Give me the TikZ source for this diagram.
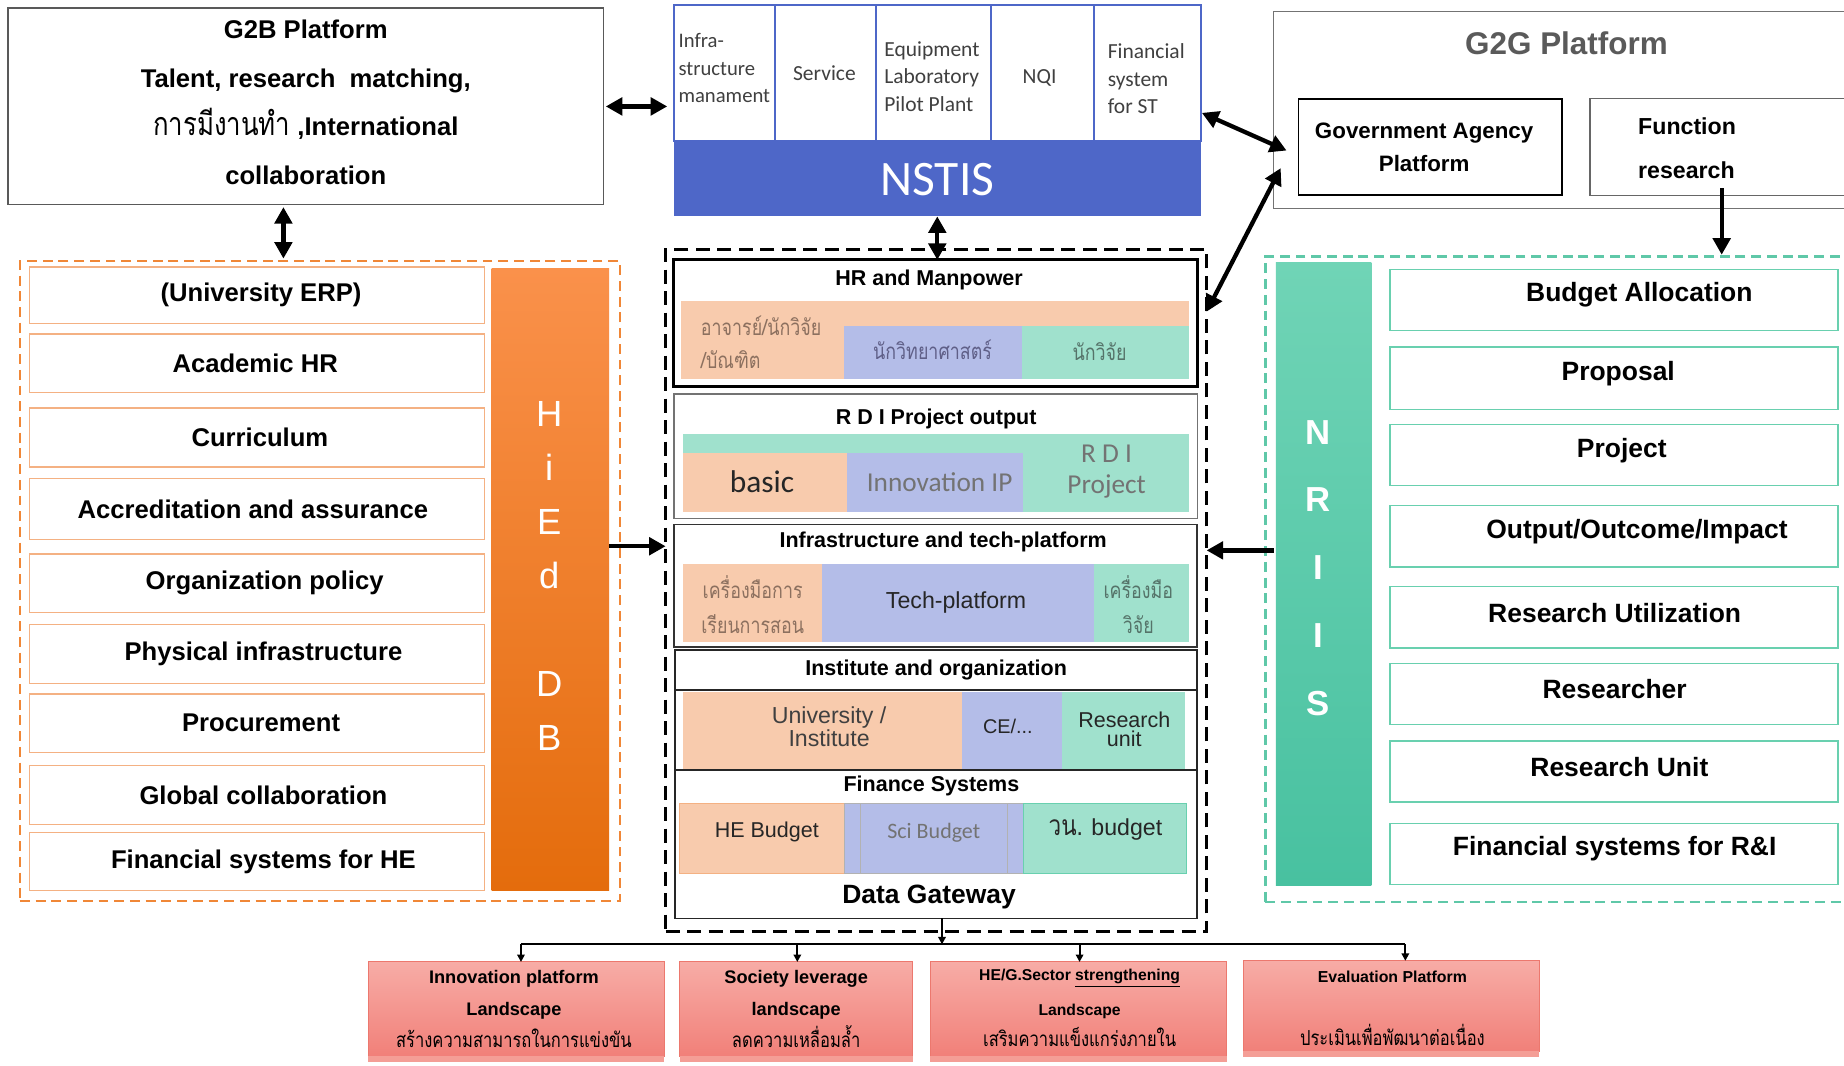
\documentclass[tikz,border=0pt]{standalone}
\usepackage{fontspec}
\setmainfont{Liberation Sans}
\newfontfamily\cali{Carlito}
\newfontfamily\thai[Script=Thai]{Loma}
\newfontfamily\thain[Script=Thai,FakeStretch=0.8]{Loma}
\usetikzlibrary{arrows.meta,fit,calc}
\newcommand\fs[2]{\fontsize{#1pt}{#2pt}\selectfont}
\definecolor{nblue}{RGB}{78,103,200}
\definecolor{cO}{RGB}{248,203,173}
\definecolor{cB}{RGB}{180,189,232}
\definecolor{cG}{RGB}{160,225,205}
\definecolor{lor}{RGB}{244,177,131}
\definecolor{dor}{RGB}{240,135,55}
\definecolor{lgr}{RGB}{105,208,175}
\definecolor{dgr}{RGB}{95,200,168}
\definecolor{txO}{RGB}{140,112,95}
\definecolor{txB}{RGB}{95,95,135}
\definecolor{txG}{RGB}{85,115,105}
\definecolor{ctx}{RGB}{64,64,64}
\definecolor{g2gtx}{RGB}{90,90,90}
\definecolor{hiT}{RGB}{250,145,75}
\definecolor{hiB}{RGB}{228,108,12}
\definecolor{nrT}{RGB}{112,212,182}
\definecolor{nrB}{RGB}{72,193,160}
\definecolor{pkT}{RGB}{247,172,166}
\definecolor{pkB}{RGB}{241,128,121}
\definecolor{pkD}{RGB}{236,120,110}
\definecolor{pkS}{RGB}{244,158,150}
\tikzset{
 shape0/.style={inner sep=0pt, outer sep=0pt, rectangle},
 lbox/.style={shape0, draw=lor, line width=0.8pt},
 rbox/.style={shape0, draw=lgr, line width=0.8pt},
 cellbox/.style={shape0, draw=nblue, line width=1.3pt, fill=white},
 fillO/.style={shape0, fill=cO},
 fillB/.style={shape0, fill=cB},
 fillG/.style={shape0, fill=cG},
 pbox/.style={shape0, top color=pkT, bottom color=pkB, draw=pkD, line width=0.6pt},
 pstrip/.style={shape0, fill=pkS},
 txt/.style={inner sep=0pt, outer sep=0pt},
 ltxt/.style={txt, font=\bfseries\fs{15.5}{18}},
 rtxt/.style={txt, font=\bfseries\fs{16}{19}},
 ttl/.style={txt, font=\bfseries\fs{13}{15}},
 celltx/.style={txt, text=ctx, font=\cali\fs{13}{16.5}, align=left},
 thaitx/.style={txt, font=\thain\fs{13.5}{20}, align=left},
 dbl/.style={line width=2.6pt, {Triangle[length=10pt,width=10.5pt]}-{Triangle[length=10pt,width=10.5pt]}},
 sgl/.style={line width=2.6pt, -{Triangle[length=10pt,width=10.5pt]}},
 conn/.style={line width=1.3pt, -{Triangle[length=4.5pt,width=4.5pt]}},
 barline/.style={line width=1.3pt},
}
\begin{document}
\begin{tikzpicture}[x=0.025cm,y=-0.025cm]
\clip (0,0) rectangle (1568,906);
\fill[white] (0,0) rectangle (1568,906);

% ---------- G2B
\node[shape0, fit={(7,7) (513,174)}, draw=black!65, line width=0.9pt] (g2b) {};
\node[txt, font=\bfseries\fs{15.5}{29.5}, align=center] (g2bt) at (260,87) {G2B Platform\\Talent, research\ \ matching,\\{\thain\mdseries\fs{19.5}{29.5}การมีงานทำ} ,International\\collaboration};

% ---------- NSTIS
\node[cellbox, fit={(573,4) (659,120)}] (c1) {};
\node[cellbox, fit={(659,4) (745,120)}] (c2) {};
\node[cellbox, fit={(745,4) (843,120)}] (c3) {};
\node[cellbox, fit={(843,4) (930,120)}] (c4) {};
\node[cellbox, fit={(930,4) (1021,120)}] (c5) {};
\node[shape0, fill=nblue, fit={(573,120) (1021,184)}] (nstis) {};
\node[txt, text=white, font=\cali\fs{30}{34}] (nstist) at (797,153) {NSTIS};
\node[celltx, anchor=west, font=\cali\fs{12.5}{16.5}] (c1t) at (577,58) {Infra-\\structure\\manament};
\node[celltx] (c2t) at (701,62) {Service};
\node[celltx, anchor=west] (c3t) at (752,65) {Equipment\\Laboratory\\Pilot Plant};
\node[celltx] (c4t) at (884,66) {NQI};
\node[celltx, anchor=west] (c5t) at (942,67) {Financial\\system\\for ST};

% ---------- G2G
\node[shape0, fit={(1083,10) (1580,177)}, draw=black!55, line width=0.7pt] (g2g) {};
\node[txt, text=g2gtx, font=\bfseries\fs{19}{22}] (g2gt) at (1332,37) {G2G Platform};
\node[shape0, fit={(1104,84) (1328,166)}, draw=black, line width=1pt] (gov) {};
\node[txt, font=\bfseries\fs{13.5}{20}, align=center] (govt) at (1211,125) {Government Agency\\Platform};
\node[shape0, fit={(1352,84) (1580,166)}, draw=black!60, line width=0.7pt] (func) {};
\node[txt, font=\bfseries\fs{14}{27}, align=left, anchor=west] (funct) at (1393,126) {Function\\research};

% ---------- left (HiEdDB)
\node[shape0, fit={(17,222) (527,766)}, draw=dor, line width=1.4pt, dash pattern=on 6pt off 3.5pt] (leftc) {};
\foreach \i/\ya/\yb/\tx/\lab in {1/227/275/222/{(University ERP)}, 2/284/334/217/{Academic HR}, 3/347/397/221/{Curriculum}, 4/407/459/215/{Accreditation and assurance}, 5/471/521/225/{Organization policy}, 6/531/581/224/{Physical infrastructure}, 7/590/640/222/{Procurement}, 8/651/701/224/{Global collaboration}, 9/708/757/224/{Financial systems for HE}}{
  \node[lbox, fit={(25,\ya) (412,\yb)}] (l\i) {};
  \node[ltxt] (lt\i) at (\tx,{(\ya+\yb)/2}) {\lab};
}
\node[shape0, fit={(418,228) (518,757)}, top color=hiT, bottom color=hiB] (hied) {};
\node[txt, text=white, font=\fs{22}{32.7}, align=center] (hiedt) at (467,490) {H\\i\\E\\d\\[32.7pt]D\\B};

% ---------- centre
\node[shape0, fit={(566,212) (1026,792)}, draw=black, line width=2pt, dash pattern=on 8.5pt off 4.5pt] (cent) {};

% HR
\node[shape0, fit={(573,221) (1018,329)}, draw=black, line width=1.8pt] (hr) {};
\node[ttl] (hrt) at (790,238) {HR and Manpower};
\node[fillO, fit={(579,256) (1011,322)}] (hrO) {};
\node[fillB, fit={(718,277) (869,322)}] (hrB) {};
\node[fillG, fit={(869,277) (1011,322)}] (hrG) {};
\node[thaitx, text=txO, anchor=west] (hrOt) at (596,291) {อาจารย์/นักวิจัย\\/บัณฑิต};
\node[thaitx, text=txB] (hrBt) at (793,297) {นักวิทยาศาสตร์};
\node[thaitx, text=txG] (hrGt) at (935,299) {นักวิจัย};

% RDI
\node[shape0, fit={(573,335) (1018,441)}, draw=black!55, line width=0.8pt] (rdi) {};
\node[ttl] (rdit) at (796,356) {R D I Project output};
\node[fillG, fit={(581,369) (1011,435)}] (rdiG) {};
\node[fillO, fit={(581,385) (720,435)}] (rdiO) {};
\node[fillB, fit={(720,385) (870,435)}] (rdiB) {};
\node[txt, font=\cali\fs{19}{22}, text=black!85] (rdiOt) at (648,410) {basic};
\node[txt, font=\cali\fs{16.5}{19}, text=black!55] (rdiBt) at (799,410) {Innovation IP};
\node[txt, font=\cali\fs{16.5}{18.5}, text=black!55, align=center] (rdiGt) at (941,401) {R D I\\Project};

% Infrastructure
\node[shape0, fit={(573,446) (1018,550)}, draw=black!80, line width=1pt] (inf) {};
\node[ttl] (inft) at (802,461) {Infrastructure and tech-platform};
\node[fillO, fit={(581,480) (699,546)}] (infO) {};
\node[fillB, fit={(699,480) (930,546)}] (infB) {};
\node[fillG, fit={(930,480) (1011,546)}] (infG) {};
\node[thaitx, text=txO, align=center, font=\thain\fs{13.5}{21}] (infOt) at (640,514) {เครื่องมือการ\\เรียนการสอน};
\node[txt, font=\fs{14}{16}, text=black!85] (infBt) at (813,512) {Tech-platform};
\node[thaitx, text=txG, align=center, font=\thain\fs{13.5}{21}] (infGt) at (968,514) {เครื่องมือ\\วิจัย};

% Institute + Finance
\node[shape0, fit={(574,553) (1018,781)}, draw=black!85, line width=1.1pt] (inst) {};
\node[ttl] (instt) at (796,570) {Institute and organization};
\draw[black!85, line width=1pt] (574,587) -- (1018,587);
\node[fillO, fit={(581,588) (818,654)}] (insO) {};
\node[fillB, fit={(818,588) (903,654)}] (insB) {};
\node[fillG, fit={(903,588) (1008,654)}] (insG) {};
\draw[black!85, line width=1pt] (574,655) -- (1018,655);
\node[txt, font=\fs{14}{10.5}, text=black!75, align=center] (insOt) at (705,618) {University /\\Institute};
\node[txt, font=\fs{12}{14}, text=black!85] (insBt) at (857,618) {CE/...};
\node[txt, font=\fs{13}{11.5}, text=black!85, align=center] (insGt) at (956,620) {Research\\unit};
\node[ttl] (fint) at (792,668) {Finance Systems};
\node[fillO, fit={(578,683) (718,743)}, draw=lor, line width=0.6pt] (finO) {};
\node[fillB, fit={(718,683) (870,743)}, draw=black!30, line width=0.6pt] (finB) {};
\node[fillG, fit={(870,683) (1009,743)}, draw=lgr, line width=0.6pt] (finG) {};
\draw[black!30, line width=0.6pt] (732,683) -- (732,743) (857,683) -- (857,743);
\node[txt, font=\fs{13}{15}, text=black!85] (finOt) at (652,707) {HE Budget};
\node[txt, font=\cali\fs{13.3}{15}, text=black!55] (finBt) at (794,708) {Sci Budget};
\node[txt, font=\fs{14}{16}, text=black!85] (finGt) at (940,705) {{\thain\fs{17}{16}วน.} budget};
\node[txt, font=\bfseries\fs{16}{18}] (dgt) at (790,763) {Data Gateway};

% ---------- right (NRIIS)
\node[shape0, fit={(1076,218) (1580,767)}, draw=dgr, line width=1.4pt, dash pattern=on 6pt off 3.5pt] (rightc) {};
\node[shape0, fit={(1085,223) (1166,753)}, top color=nrT, bottom color=nrB] (nriis) {};
\node[txt, text=white, font=\bfseries\fs{21}{41}, align=center] (nriist) at (1121,483) {N\\R\\I\\I\\S};
\foreach \i/\ya/\yb/\tx/\lab in {1/229/281/1394/{Budget Allocation}, 2/295/348/1376/{Proposal}, 3/361/413/1379/{Project}, 4/430/482/1392/{Output/Outcome/Impact}, 5/499/551/1373/{Research Utilization}, 6/564/616/1373/{Researcher}, 7/630/682/1377/{Research Unit}, 8/700/752/1373/{Financial systems for R\&I}}{
  \node[rbox, fit={(1182,\ya) (1563,\yb)}] (r\i) {};
  \node[rtxt] (rt\i) at (\tx,{(\ya+\yb)/2-4}) {\lab};
}

% ---------- bottom boxes
\node[pbox, fit={(313,818) (565,898)}] (b1) {};
\node[pstrip, fit={(313,898) (565,903)}] (b1s) {};
\node[pbox, fit={(578,818) (776,898)}] (b2) {};
\node[pstrip, fit={(578,898) (776,903)}] (b2s) {};
\node[pbox, fit={(791,818) (1043,898)}] (b3) {};
\node[pstrip, fit={(791,898) (1043,903)}] (b3s) {};
\node[pbox, fit={(1057,817) (1309,894)}] (b4) {};
\node[pstrip, fit={(1057,894) (1309,899)}] (b4s) {};
\node[txt, font=\bfseries\fs{11}{19.6}, align=center] (b1t) at (437,858) {Innovation platform\\Landscape\\{\thain\mdseries\fs{12.5}{19.6}สร้างความสามารถในการแข่งขัน}};
\node[txt, font=\bfseries\fs{11}{19.6}, align=center] (b2t) at (677,858) {Society leverage\\landscape\\{\thain\mdseries\fs{12.5}{19.6}ลดความเหลื่อมล้ำ}};
\node[txt, font=\bfseries\fs{9.5}{11}] (b3t1) at (918,832) {HE/G.Sector \underline{strengthening}};
\node[txt, font=\bfseries\fs{9.5}{11}] (b3t2) at (918,860) {Landscape};
\node[txt, font=\thain\fs{12.5}{14}] (b3t3) at (918,882) {เสริมความแข็งแกร่งภายใน};
\node[txt, font=\bfseries\fs{9.6}{11}] (b4t1) at (1184,831) {Evaluation Platform};
\node[txt, font=\thain\fs{12.5}{14}] (b4t2) at (1184,880) {ประเมินเพื่อพัฒนาต่อเนื่อง};

% ---------- connectors
\draw[dbl, shorten <=1.5pt, shorten >=4pt] (g2b.east) -- (g2b.east -| c1.west);
\draw[dbl, shorten <=1.5pt, shorten >=1.5pt] ($(g2b.south)+(-19,0)$) -- ($(leftc.north)+(-31,0)$);
\draw[dbl] (nstis.south) -- (nstis.south |- hr.north);
\draw[dbl] ($(c5.east)+(1,34)$) -- ($(gov.west)+(-10,3)$);
\draw[dbl] ($(gov.west)+(-15,18)$) -- ($(hr.east)+(8,-10)$);
\draw[sgl, shorten >=1pt] ($(func.south)+(-2,-6)$) -- ($(func.south |- rightc.north)+(-2,0)$);
\coordinate (hiout) at ($(hied.east)+(0,-28)$);
\draw[sgl] (hiout) -- (hiout -| cent.west);
\coordinate (nrout) at ($(nriis.west)+(-2,-20)$);
\draw[sgl] (nrout) -- (nrout -| cent.east);

\coordinate (j1) at (443,803);
\coordinate (j2) at (678,803);
\coordinate (j3) at (918,803);
\coordinate (j4) at (1195,803);
\coordinate (dg) at ($(inst.south)+(5,0)$);
\draw[conn] (dg) -- (dg |- j1);
\draw[barline] (j1) -- (j4);
\draw[conn] (j1) -- (j1 |- b1.north);
\draw[conn] (j2) -- (j2 |- b2.north);
\draw[conn] (j3) -- (j3 |- b3.north);
\draw[conn] (j4) -- (j4 |- b4.north);
\end{tikzpicture}
\end{document}
